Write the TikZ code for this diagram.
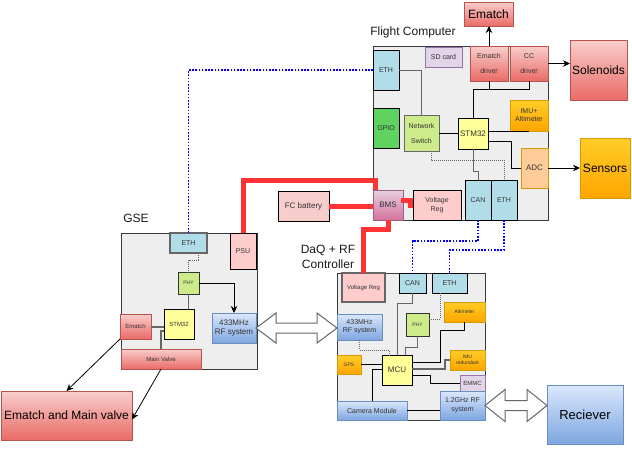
\documentclass[tikz,border=0pt]{standalone}
\usepackage{fontspec}
\setmainfont{Liberation Sans}
\usetikzlibrary{arrows.meta,calc}
\definecolor{redT}{HTML}{F8CECC}
\definecolor{redB}{HTML}{EA6B66}
\definecolor{redS}{HTML}{B85450}
\definecolor{blueT}{HTML}{DAE8FC}
\definecolor{blueB}{HTML}{7EA6E0}
\definecolor{blueS}{HTML}{6C8EBF}
\definecolor{orT}{HTML}{FFCD28}
\definecolor{orB}{HTML}{FFA500}
\definecolor{orS}{HTML}{D79B00}
\definecolor{pinkT}{HTML}{E6D0DE}
\definecolor{pinkB}{HTML}{D5739D}
\definecolor{pinkS}{HTML}{996185}
\definecolor{lblue}{HTML}{B1DDE9}
\definecolor{lgreen}{HTML}{CDEB8B}
\definecolor{gpioG}{HTML}{5FD35F}
\definecolor{yel}{HTML}{FFFF99}
\definecolor{lpink}{HTML}{FFCCCC}
\definecolor{batt}{HTML}{F8CECC}
\definecolor{peach}{HTML}{FFCC99}
\definecolor{purpF}{HTML}{E1D5E7}
\definecolor{purpS}{HTML}{9673A6}
\definecolor{contF}{HTML}{EEEEEE}
\definecolor{contS}{HTML}{36393D}
\definecolor{txt}{HTML}{333333}
\definecolor{redLine}{HTML}{FF3333}
\definecolor{grayL}{HTML}{666666}
\newcommand\mybox[7]{\node[#6, minimum width={(#4-#2)*1pt}, minimum height={(#5-#3)*1pt}] (#1) at ({(#2+#4)/2},{(#3+#5)/2}) {#7};}
\begin{document}
\begin{tikzpicture}[x=1pt,y=-1pt,
  base/.style={draw, inner sep=0pt, outer sep=0pt, align=center, text=txt, line width=0.8pt},
  rbox/.style={base, top color=redT, bottom color=redB, draw=redS},
  bbox/.style={base, top color=blueT, bottom color=blueB, draw=blueS},
  obox/.style={base, top color=orT, bottom color=orB, draw=orS},
  pbox/.style={base, top color=pinkT, bottom color=pinkB, draw=pinkS},
  lbbox/.style={base, fill=lblue, draw=black},
  lgbox/.style={base, fill=lgreen, draw=grayL},
  gpbox/.style={base, fill=gpioG, draw=black},
  ybox/.style={base, fill=yel, draw=black},
  lpbox/.style={base, fill=lpink, draw=black},
  batbox/.style={base, fill=batt, draw=black},
  pcbox/.style={base, fill=peach, draw=orS},
  ppbox/.style={base, fill=purpF, draw=purpS},
  cont/.style={base, fill=contF, draw=contS},
  f5/.style={font=\fontsize{5}{6}\selectfont},
  f6/.style={font=\fontsize{6}{7.2}\selectfont},
  f7/.style={font=\fontsize{7}{9}\selectfont},
  f8/.style={font=\fontsize{8}{9.5}\selectfont},
  f12/.style={font=\fontsize{12}{15}\selectfont},
  f13/.style={font=\fontsize{13}{15}\selectfont},
  lbl/.style={text=black!90, inner sep=0pt, align=center},
  ln/.style={draw=black, line width=0.8pt},
  gln/.style={draw=grayL, line width=0.8pt},
  gthick/.style={draw=grayL, line width=2pt},
  gdot/.style={draw=grayL, line width=0.9pt, dash pattern=on 1pt off 1pt},
  bdot/.style={draw=blue, line width=1.8pt, dash pattern=on 1.6pt off 1.6pt},
  redl/.style={draw=redLine, line width=5pt},
  arr/.style={ln, -{Stealth[length=7pt,width=6.5pt]}},
  dbl/.style={draw=grayL, fill=white, line width=1pt, line join=miter}]
\useasboundingbox (0,0) rectangle (632,453);

% containers
\mybox{fc}{373}{46}{548}{220}{cont}{}
\mybox{gse}{121}{233}{257}{369}{cont}{}
\mybox{daq}{337}{273}{485}{420}{cont}{}
\node[lbl,f12] (fclab) at (413,32) {Flight Computer};
\node[lbl,f12] (gselab) at (136,218) {GSE};
\node[lbl,f12] (daqlab) at (328,257) {DaQ + RF\\Controller};

% flight computer
\mybox{ematch}{464}{2}{513}{26}{rbox,f12,text=black}{Ematch}
\mybox{solen}{570}{40}{627}{100}{rbox,f12,text=black}{Solenoids}
\mybox{sensors}{580}{138}{630}{198}{obox,f12,text=black}{Sensors}
\mybox{fceth}{373}{50}{399}{90}{lbbox,f7}{ETH}
\mybox{sdcard}{425}{47}{462}{67}{ppbox,f7}{SD card}
\mybox{edrv}{470}{46}{508}{81}{rbox,f7}{Ematch\\[6pt]driver}
\mybox{ccdrv}{510}{46}{548}{81}{rbox,f7}{CC\\[6pt]driver}
\mybox{gpio}{373}{108}{399}{148}{gpbox,f7}{GPIO}
\mybox{nsw}{404}{115}{439}{151}{lgbox,f7}{Network\\[6pt]Switch}
\mybox{stm}{458}{118}{488}{149}{ybox,f8}{STM32}
\mybox{imu}{510}{100}{548}{131}{obox,f7}{IMU+\\[-1pt]Altimeter}
\mybox{adc}{521}{148}{548}{188}{pcbox,f8}{ADC}
\mybox{fccan}{465}{180}{491}{220}{lbbox,f7}{CAN}
\mybox{fceth2}{491}{180}{517}{220}{lbbox,f7}{ETH}
\mybox{bms}{373}{190}{403}{220}{pbox,f8}{BMS}
\mybox{fcvr}{413}{190}{461}{220}{lpbox,f7}{Voltage\\Reg}
\mybox{fcbat}{278}{191}{329}{221}{batbox,f8}{FC battery}

% GSE
\mybox{geth}{170}{233}{207}{253}{lbbox,draw=grayL,line width=1.3pt,f7}{ETH}
\mybox{psu}{230}{233}{256}{269}{lpbox,f7}{PSU}
\mybox{gphy}{178}{272}{199}{294}{lgbox,draw=black!80,f5}{PHY}
\mybox{g433}{212}{313}{256}{343}{bbox,f8}{433MHz\\[-1pt]RF system}
\mybox{gstm}{164}{309}{194}{339}{ybox,f6}{STM32}
\mybox{gematch}{120}{314}{151}{339}{rbox,f6}{Ematch}
\mybox{gmv}{121}{349}{201}{369}{rbox,f6}{Main Valve}
\mybox{emv}{1}{391}{132}{440}{rbox,f12,text=black}{Ematch and Main valve}

% DaQ
\mybox{dvr}{342}{273}{385}{302}{lpbox,draw=grayL,line width=1.3pt,f6}{Voltage Reg}
\mybox{dcan}{399}{273}{426}{293}{lbbox,f7}{CAN}
\mybox{deth}{432}{273}{467}{293}{lbbox,f7}{ETH}
\mybox{d433}{337}{314}{382}{340}{bbox,f7}{433MHz\\[-1pt]RF system}
\mybox{dalt}{444}{302}{485}{322}{obox,f5}{Altimeter}
\mybox{dphy}{406}{313}{429}{336}{lgbox,draw=black!80,f5}{PHY}
\mybox{gps}{337}{355}{361}{374}{obox,f5}{GPS}
\mybox{mcu}{382}{355}{412}{385}{ybox,f8}{MCU}
\mybox{dimu}{450}{350}{485}{370}{obox,f5}{IMU\\redundant}
\mybox{emmc}{460}{375}{485}{391}{ppbox,f6}{EMMC}
\mybox{cam}{337}{401}{407}{420}{bbox,f7}{Camera Module}
\mybox{g12}{440}{391}{485}{420}{bbox,f7}{1.2GHz RF\\system}
\mybox{recv}{547}{385}{623}{444}{bbox,f13,text=black}{Reciever}

% helper coordinates
\coordinate (h89) at (0,89);
\coordinate (h141) at (0,141);
\coordinate (v511) at (511,0);
\coordinate (c160) at (431,160);
\coordinate (h331) at (0,331);
\coordinate (h319) at (0,319);
\coordinate (h362) at (0,362);
\coordinate (v440) at (440,0);
\coordinate (h369) at (0,369);
\coordinate (h375) at (0,375);
\coordinate (v430) at (430,0);

% flight computer connectors
\draw[arr] (edrv.north) -- (edrv.north |- ematch.south);
\draw[arr] (ccdrv.east) -- (ccdrv.east -| solen.west);
\draw[ln] (edrv.south) -- (edrv.south |- h89);
\draw[ln] (stm.north) -- (stm.north |- h89) -| (ccdrv.south);
\draw[gln] (fceth.east) -| (nsw.north);
\draw[ln] (nsw.east) -- (nsw.east -| stm.west);
\draw[ln] (stm.east |- imu.south) -- (imu.south);
\draw[ln] (stm.east |- h141) -| (v511 |- adc.west) -- (adc.west);
\draw[arr] (adc.east) -- (adc.east -| sensors.west);
\draw[gdot] (nsw.south -| c160) -- (c160) -| (fceth2.north);
\draw[gln] (stm.south) -- ++(0,22) -| (fccan.north);

% power
\draw[redl] (fcbat.east) -- (fcbat.east -| bms.west);
\draw[redl] (bms.east) ++(-2,-5) -- ++(9,0) |- (fcvr.west);
\draw[redl] (bms.north west) ++(2,0) -- ++(0,-10) -| (psu.north);
\draw[redl] (bms.south) -- ++(0,9) -| (dvr.north);

% network (blue dotted)
\draw[bdot] (fceth.west) -| (geth.north);
\draw[bdot] (fccan.south) -- ++(0,21) -| (dcan.north);
\draw[bdot] (fceth2.south) -- ++(0,30) -| (deth.north);

% GSE connectors
\draw[gdot] (geth.south east) ++(-9,0) -- ++(0,7) -| (gphy.north);
\draw[arr] (gphy.east) -| (g433.north);
\draw[gln] (gphy.south) -- (gphy.south |- gstm.north);
\draw[gthick] (gematch.east) -- (gematch.east -| gstm.west);
\draw[gthick] (gstm.west |- h331) -| (gmv.north);
\draw[arr] (gematch.south west) -- (emv.north);
\draw[arr] (gmv.south) -- ([yshift=-4pt]emv.east);

% DaQ connectors
\draw[gln] (dcan.south) -- ++(0,10) -| (mcu.north);
\draw[gdot] (deth.south) ++(-9.5,0) -- ++(0,26) -- (dphy.east |- h319);
\draw[gln] (dphy.south) -- ++(0,11) -| ([xshift=8pt]mcu.north);
\draw[gdot] (d433.south) -- ++(0,10) -| ([xshift=-8pt]mcu.north);
\draw[ln] (dalt.south) -- ++(0,8) -| (v440 |- h362) -- (mcu.east |- h362);
\draw[ln] (gps.east) -- (gps.east -| mcu.west);
\draw[gthick] (dimu.west) -- ++(-5,0) |- (mcu.east |- h369);
\draw[ln] (mcu.east |- h375) -| (v430 |- emmc.west) -- (emmc.west);
\draw[ln] (cam.north) |- (mcu.west |- h369);
\draw[ln] (cam.east) -- (cam.east -| g12.west);

% double arrows
\draw[dbl] (g433.east) -- ++(20,-15) -- ++(0,10) -- ($(g433.east -| d433.west)+(-20,-5)$) -- ++(0,-10) -- (g433.east -| d433.west) -- ++(-20,15) -- ++(0,-10) -- ($(g433.east)+(20,5)$) -- ++(0,10) -- cycle;
\draw[dbl] (g12.east) -- ++(20,-16) -- ++(0,11) -- ($(g12.east -| recv.west)+(-20,-5)$) -- ++(0,-11) -- (g12.east -| recv.west) -- ++(-20,16) -- ++(0,-11) -- ($(g12.east)+(20,5)$) -- ++(0,11) -- cycle;
\end{tikzpicture}
\end{document}
